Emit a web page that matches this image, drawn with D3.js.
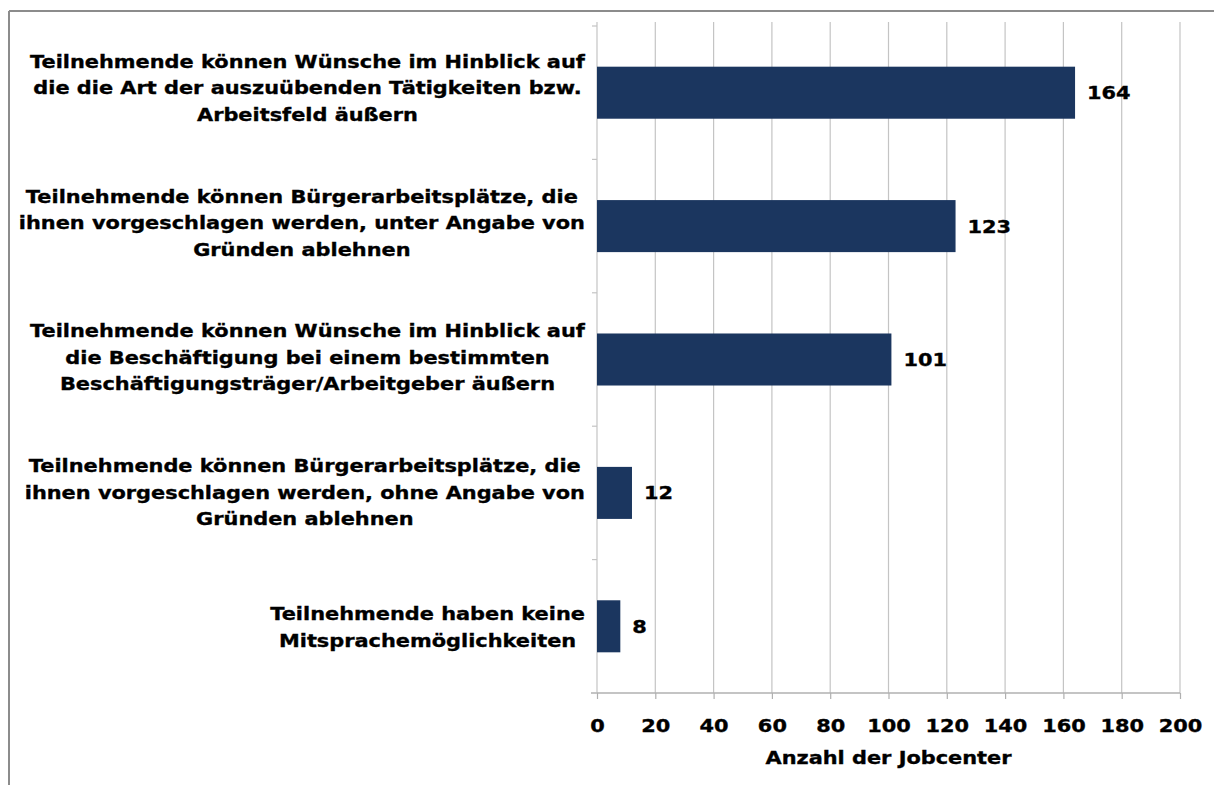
<!DOCTYPE html>
<html lang="de">
<head>
<meta charset="utf-8">
<title>Mitsprachemöglichkeiten der Teilnehmenden</title>
<script src="https://cdn.jsdelivr.net/npm/d3@7"></script>
<style>
  html, body { margin: 0; padding: 0; background: #ffffff; }
  svg { display: block; }
  text { font-family: "DejaVu Sans", Verdana, sans-serif; font-weight: bold; fill: #000;
         stroke: #000; stroke-width: 0.35px; }
</style>
</head>
<body>
<svg id="chart" width="1214" height="785"></svg>
<script>
// Category labels, one array of lines per bar (top to bottom)
const categories = [
  ["Teilnehmende können Wünsche im Hinblick auf", "die die Art der auszuübenden Tätigkeiten bzw.", "Arbeitsfeld äußern"],
  ["Teilnehmende können Bürgerarbeitsplätze, die", "ihnen vorgeschlagen werden, unter Angabe von", "Gründen ablehnen"],
  ["Teilnehmende können Wünsche im Hinblick auf", "die Beschäftigung bei einem bestimmten", "Beschäftigungsträger/Arbeitgeber äußern"],
  ["Teilnehmende können Bürgerarbeitsplätze, die", "ihnen vorgeschlagen werden, ohne Angabe von", "Gründen ablehnen"],
  ["Teilnehmende haben keine", "Mitsprachemöglichkeiten"]
];
const values = [164, 123, 101, 12, 8];
const xTicks = [0, 20, 40, 60, 80, 100, 120, 140, 160, 180, 200];
const xTitle = "Anzahl der Jobcenter";

// Wide bold face: DejaVu Sans Bold stretched horizontally
const fontSize = 18;
const stretch = 1.16;

const svg = d3.select("#chart");

// Outer frame (top and left edges visible)
svg.append("line").attr("x1", 9).attr("y1", 11).attr("x2", 1214).attr("y2", 11)
  .attr("stroke", "#8c8c8c").attr("stroke-width", 2);
svg.append("line").attr("x1", 9).attr("y1", 11).attr("x2", 9).attr("y2", 785)
  .attr("stroke", "#8c8c8c").attr("stroke-width", 2);

const plot = { left: 597, right: 1180, top: 26, bottom: 693 };

const x = d3.scaleLinear().domain([0, 200]).range([plot.left, plot.right]);
const y = d3.scaleBand().domain(d3.range(categories.length))
  .range([plot.top, plot.bottom]).paddingInner(0.61).paddingOuter(0.305);
// Vertical centres of the category label blocks
const labelY = d3.scaleLinear().domain([0, categories.length - 1]).range([88, 627]);

// Places a stretched text element at (px, py)
function place(sel, px, py) {
  sel.attr("transform", `translate(${px},${py}) scale(${stretch},1)`);
}

// Vertical gridlines
svg.append("g").selectAll("line").data(xTicks).join("line")
  .attr("x1", d => x(d)).attr("x2", d => x(d))
  .attr("y1", plot.top - 4).attr("y2", plot.bottom)
  .attr("stroke", "#c4c4c4").attr("stroke-width", 1.2);

// X axis with ticks and labels
const xAxis = d3.axisBottom(x).tickValues(xTicks).tickSize(6).tickPadding(20);
const gx = svg.append("g").attr("transform", `translate(0,${plot.bottom})`).call(xAxis);
gx.select(".domain").attr("d", `M${plot.left - 6},0H${plot.right}`)
  .attr("stroke", "#b0b0b0").attr("stroke-width", 1.5);
gx.selectAll(".tick line").attr("stroke", "#b0b0b0").attr("stroke-width", 1.2);
gx.selectAll(".tick text").attr("font-size", fontSize)
  .attr("font-family", "'DejaVu Sans', Verdana, sans-serif").attr("font-weight", "bold")
  .attr("fill", "#000").attr("stroke", "#000").attr("stroke-width", 0.35)
  .attr("transform", `scale(${stretch},1)`);

// Category axis ticks at band boundaries
const boundaries = d3.range(categories.length + 1).map(i => plot.top + i * y.step());
svg.append("g").selectAll("line").data(boundaries).join("line")
  .attr("x1", plot.left - 5).attr("x2", plot.left)
  .attr("y1", d => d).attr("y2", d => d)
  .attr("stroke", "#c4c4c4").attr("stroke-width", 1.2);

// Axis title
svg.append("text").attr("text-anchor", "middle").attr("font-size", fontSize)
  .call(place, (plot.left + plot.right) / 2, 764).text(xTitle);

// Bars
svg.append("g").selectAll("rect").data(values).join("rect")
  .attr("x", x(0)).attr("y", (d, i) => y(i))
  .attr("width", d => x(d) - x(0)).attr("height", y.bandwidth())
  .attr("fill", "#1b365f");

// Value labels
svg.append("g").selectAll("text").data(values).join("text")
  .attr("dy", "0.36em").attr("font-size", fontSize)
  .each(function(d, i) { place(d3.select(this), x(d) + 12, y(i) + y.bandwidth() / 2); })
  .text(d => d);

// Category labels: lines centred within a block that is right-aligned to the axis
const lineH = 26.5;
const labelRight = 585;
const lg = svg.append("g");
categories.forEach((lines, i) => {
  const cy = labelY(i);
  const t = lg.append("g").selectAll("text").data(lines).join("text")
    .attr("font-size", fontSize)
    .attr("dy", "0.36em")
    .attr("text-anchor", "middle")
    .text(d => d);
  let w = 0;
  t.each(function() { w = Math.max(w, this.getComputedTextLength() * stretch); });
  t.each(function(d, j) {
    place(d3.select(this), labelRight - w / 2, cy + (j - (lines.length - 1) / 2) * lineH);
  });
});
</script>
</body>
</html>
